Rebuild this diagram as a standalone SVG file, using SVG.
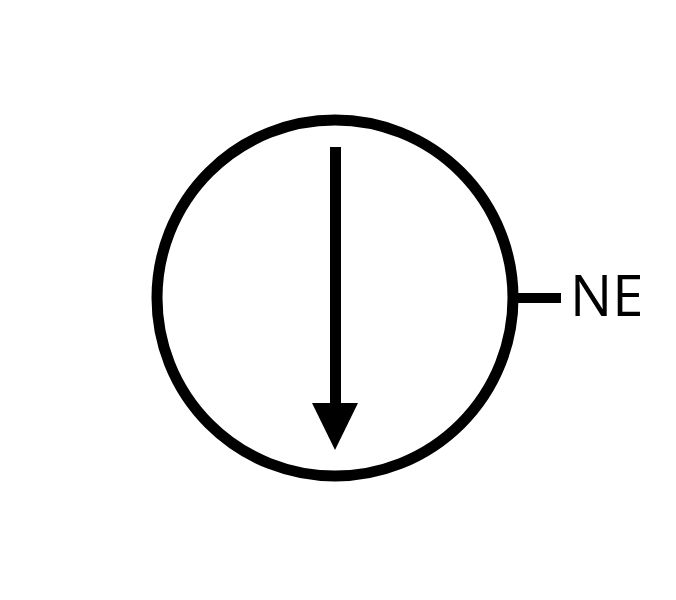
<svg xmlns="http://www.w3.org/2000/svg" width="676" height="600" viewBox="0 0 676 600">
  <style>
    .stroke { fill: none; stroke: #000; }
    .label { font-family: "Open Sans", "Noto Sans", "DejaVu Sans", sans-serif; font-size: 56px; fill: #000; }
  </style>
  <rect width="676" height="600" fill="#fff"/>
  <g id="node-circle">
    <circle class="stroke" cx="335" cy="298" r="178" stroke-width="11"/>
  </g>
  <g id="connectors">
    <line class="stroke" x1="335.5" y1="147" x2="335.5" y2="404" stroke-width="11"/>
    <polygon points="312,403 358,403 335,450" fill="#000"/>
    <line class="stroke" x1="516" y1="298" x2="561" y2="298" stroke-width="10"/>
  </g>
  <g id="node-label">
    <text class="label" x="570" y="316">NE</text>
  </g>
</svg>
